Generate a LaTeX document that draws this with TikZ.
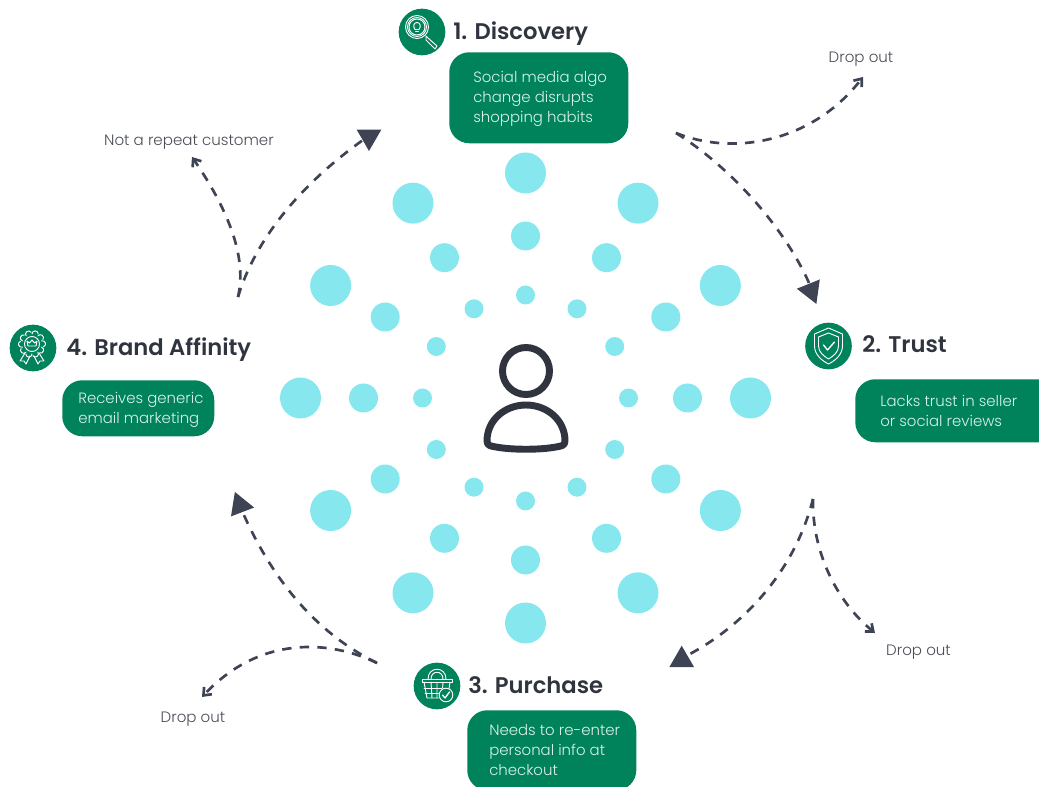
\documentclass[tikz,border=0pt]{standalone}
\usepackage{fontspec}
\setmainfont{Poppins Light}
\newfontfamily\headfont{Poppins SemiBold}
\usepackage{tikz}
\usetikzlibrary{arrows.meta,positioning}
\definecolor{stepgreen}{HTML}{00825A}
\definecolor{dotcyan}{HTML}{86E8EE}
\definecolor{inkdark}{HTML}{30343F}
\definecolor{arrowdark}{HTML}{3F4454}
\definecolor{notegray}{HTML}{4A4E57}
\definecolor{boxtext}{HTML}{D8F3E8}
\tikzset{
    stepbox/.style={fill=stepgreen,rounded corners=15pt,anchor=north west,inner sep=0pt},
    steptext/.style={anchor=west,text=boxtext,align=left,inner sep=0pt,font=\fontsize{11.2}{15}\selectfont},
    stephead/.style={anchor=base west,inner sep=0pt,text=inkdark,font=\headfont\fontsize{17}{20}\selectfont},
    stepicon/.style={circle,fill=stepgreen,minimum size=35pt,inner sep=0pt},
    dropnote/.style={inner sep=0pt,text=notegray,font=\fontsize{11.3}{13}\selectfont},
    flowline/.style={arrowdark,line width=2pt,line cap=butt,dash pattern=on 7pt off 6.2pt},
    dropline/.style={flowline,-{Straight Barb[length=5pt,width=8pt,line width=2pt]}},
    iconline/.style={white,line width=0.7pt}
}
\newcommand{\drawBigTip}[2]{
    \begin{scope}[shift={(#1)}]
        \fill[arrowdark] (#2:14.3) -- (#2+120:14.3) -- (#2+240:14.3) -- cycle;
    \end{scope}
}
\newcommand{\drawLensIcon}[1]{
    \begin{scope}[shift={(#1.center)},iconline]
        \draw (-5,-5) circle (11.5);
        \draw (-5,-5) circle (9.5);
        \draw (-5,-5) circle (8);
        \draw (-7,-2.5) .. controls (-9.5,-6) and (-8,-9.5) .. (-5,-9.5) .. controls (-2,-9.5) and (-0.5,-6) .. (-3,-2.5) -- cycle;
        \draw (-6.5,-0.5) -- (-3.5,-0.5);
        \draw (4,4) -- (6,6) -- (15,14) -- (13,17) -- (4,8) -- cycle;
    \end{scope}
}
\newcommand{\drawShieldIcon}[1]{
    \begin{scope}[shift={(#1.center)},iconline]
        \draw (0,-18) -- (14,-12) -- (14,0) .. controls (14,9) and (6,15) .. (0,18) .. controls (-6,15) and (-14,9) .. (-14,0) -- (-14,-12) -- cycle;
        \draw (0,-13) -- (10,-9) -- (10,0) .. controls (10,6) and (5,10) .. (0,13) .. controls (-5,10) and (-10,6) .. (-10,0) -- (-10,-9) -- cycle;
        \draw[line width=1pt] (-5,-1) -- (-1,4) -- (6,-4);
    \end{scope}
}
\newcommand{\drawBasketIcon}[1]{
    \begin{scope}[shift={(#1.center)},iconline]
        \draw (-9,-7) .. controls (-9,-20) and (9,-20) .. (9,-7);
        \draw (-6,-7) .. controls (-6,-16) and (6,-16) .. (6,-7);
        \draw (-15,-7) -- (15,-7) -- (15,-4) -- (-15,-4) -- cycle;
        \draw (-13,-4) -- (-10,12) -- (7,12);
        \draw (13,-4) -- (12,3);
        \draw (-13,2) -- (13,2) (-12,7) -- (5,7);
        \draw (-6,-4) -- (-5,12) (0,-4) -- (0,12) (6,-4) -- (5,12);
        \fill[stepgreen] (9,9) circle (7.5);
        \draw (9,9) circle (6.8);
        \draw[line width=1pt] (5.5,9) -- (8,12) -- (12.5,6);
    \end{scope}
}
\newcommand{\drawRosetteIcon}[1]{
    \begin{scope}[shift={(#1.center)},iconline]
        \draw (-1,-4) circle (7.5);
        \foreach \a in {0,36,...,324} {
            \draw (-1,-4) ++(\a-18:10) arc[start angle=\a-108,end angle=\a+72,radius=3.1];
        }
        \draw (-5,-2) -- (-6,-7) -- (-3.5,-5) -- (-1,-8) -- (1.5,-5) -- (4,-7) -- (3,-2) -- cycle;
        \draw (-8,5) -- (-13,13) -- (-9,13) -- (-7,16) -- (-3,8);
        \draw (6,5) -- (11,13) -- (7,13) -- (5,16) -- (1,8);
    \end{scope}
}
\begin{document}
\begin{tikzpicture}[x=0.75pt,y=-0.75pt,line cap=round,line join=round]

        \useasboundingbox (0,0) rectangle (1039,787);
        \clip (0,0) rectangle (1039,787);

        % --- Rings of dots ---
        \coordinate (hub) at (525.5,398);
        \foreach \a in {0,30,...,330} {
            \fill[dotcyan] (hub) ++(\a:225) circle (20.5);
            \fill[dotcyan] (hub) ++(\a:162) circle (14.5);
            \fill[dotcyan] (hub) ++(\a:103) circle (9.5);
        }

        % Person
        \draw[inkdark,line width=5.2pt] (526,371) circle (23.5);
        \draw[inkdark,line width=5.2pt] (487,441) .. controls (487,420) and (505,405) .. (526,405) .. controls (547,405) and (565,420) .. (565,441)
            .. controls (565,446) and (561,446) .. (556,447) .. controls (540,450) and (512,450) .. (496,447) .. controls (491,446) and (487,446) .. (487,441) -- cycle;

        % --- Step icons ---
        \node[stepicon] (discovery) at (422,32) {};
        \node[stepicon] (trust) at (828.5,346) {};
        \node[stepicon] (purchase) at (437,686) {};
        \node[stepicon] (affinity) at (33,348) {};
        \drawLensIcon{discovery}
        \drawShieldIcon{trust}
        \drawBasketIcon{purchase}
        \drawRosetteIcon{affinity}

        % --- Step titles ---
        \node[stephead] (discoveryHead) at (453,40) {1. Discovery};
        \node[stephead] (trustHead) at (862,353) {2. Trust};
        \node[stephead] (purchaseHead) at (468,693) {3. Purchase};
        \node[stephead] (affinityHead) at (66,356) {4. Brand Affinity};

        % --- Green boxes ---
        \node[stepbox,minimum width=134.25pt,minimum height=68.25pt] (discoveryBox) at (449,52) {};
        \node[stepbox,minimum width=153pt,minimum height=47.25pt] (trustBox) at (855,379) {};
        \node[stepbox,minimum width=126.75pt,minimum height=60pt] (purchaseBox) at (467,710) {};
        \node[stepbox,minimum width=114pt,minimum height=42pt] (affinityBox) at (62,380) {};

        \node[steptext] (discoveryText) at ([xshift=18pt,yshift=-0.5pt]discoveryBox.west) {Social media algo\\change disrupts\\shopping habits};
        \node[steptext] (trustText) at ([xshift=18.75pt]trustBox.west) {Lacks trust in seller\\or social reviews};
        \node[steptext] (purchaseText) at ([xshift=16.5pt]purchaseBox.west) {Needs to re-enter\\personal info at\\checkout};
        \node[steptext] (affinityText) at ([xshift=12pt,yshift=-1.5pt]affinityBox.west) {Receives generic\\email marketing};

        % --- Side notes ---
        \node[dropnote] (dropTop) at (861,59) {Drop out};
        \node[dropnote] (dropRight) at (918.5,652) {Drop out};
        \node[dropnote] (dropBottom) at (193,719) {Drop out};
        \node[dropnote] (notRepeat) at (189,142) {Not a repeat customer};

        % Free ends of the curves
        \coordinate (splitOne) at (676,133);
        \coordinate (splitTwo) at (813,499);
        \coordinate (splitThree) at (377,663);
        \coordinate (splitFour) at (238,297);
        \coordinate (tipTwo) at (812,290);
        \coordinate (tipThree) at (688,655);
        \coordinate (tipFour) at (243,513);
        \coordinate (tipOne) at (363,140);
        \coordinate (outOne) at (863,77);
        \coordinate (outTwo) at (875,633);
        \coordinate (outThree) at (202,697);
        \coordinate (outFour) at (192,157);

        % Steps
        \draw[flowline] (splitOne) .. controls (735,170) and (790,235) .. (tipTwo);
        \draw[flowline] (splitTwo) .. controls (795,570) and (745,625) .. (tipThree);
        \draw[flowline] (splitThree) .. controls (320,635) and (275,585) .. (tipFour);
        \draw[flowline] (splitFour) .. controls (255,240) and (300,185) .. (tipOne);

        % Drop outs
        \draw[dropline] (splitOne) .. controls (730,155) and (810,145) .. (outOne);
        \draw[dropline] (splitTwo) .. controls (812,550) and (835,600) .. (outTwo);
        \draw[dropline] (splitThree) .. controls (330,640) and (260,635) .. (outThree);
        \draw[dropline] (splitFour) .. controls (248,255) and (225,205) .. (outFour);

        % Big triangles
        \drawBigTip{811,290.7}{68}
        \drawBigTip{681.7,660}{-90}
        \drawBigTip{240,505.3}{249}
        \drawBigTip{369,136.7}{90}

    \end{tikzpicture}
\end{document}
